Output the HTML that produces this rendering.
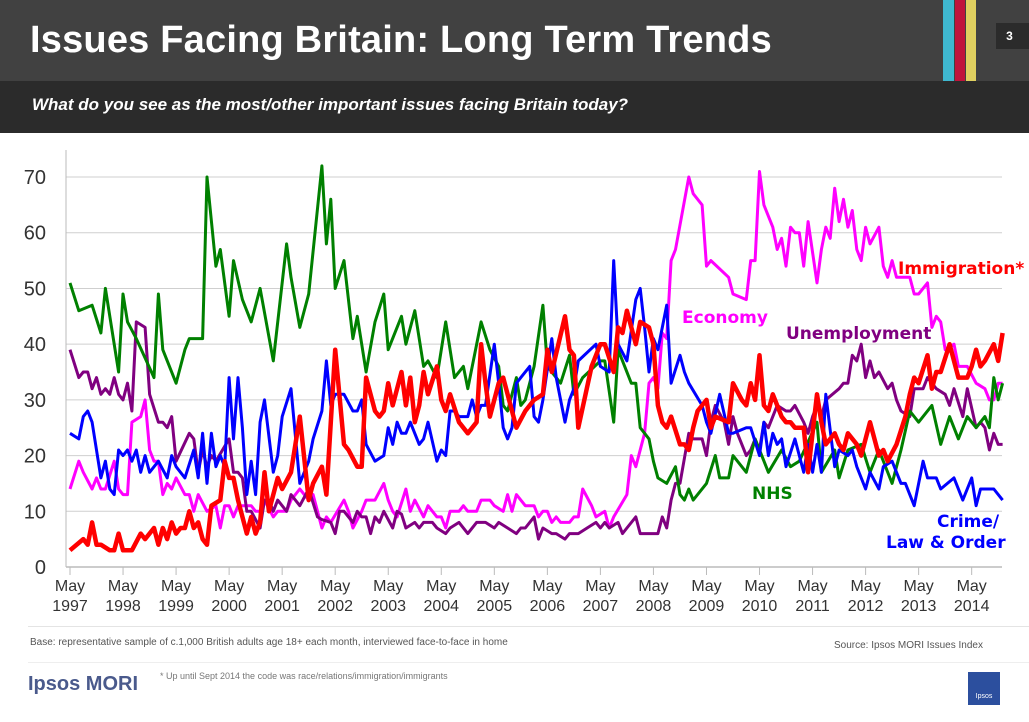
<!DOCTYPE html>
<html><head><meta charset="utf-8"><style>
body{margin:0;width:1029px;height:714px;overflow:hidden;background:#fff;font-family:"Liberation Sans",sans-serif;position:relative}
.abs{position:absolute}
</style></head><body>
<div class="abs" style="left:0;top:0;width:1029px;height:81px;background:#414141"></div>
<div class="abs" style="left:30px;top:19px;color:#fff;font-size:38px;font-weight:bold;letter-spacing:0.2px">Issues Facing Britain: Long Term Trends</div>
<div class="abs" style="left:943px;top:0;width:11px;height:81px;background:#3fb8d0"></div>
<div class="abs" style="left:955px;top:0;width:10px;height:81px;background:#c0143c"></div>
<div class="abs" style="left:966px;top:0;width:10px;height:81px;background:#e0d060"></div>
<div class="abs" style="left:996px;top:23px;width:33px;height:26px;background:#2b2b2b;color:#fff;font-size:12px;font-weight:bold;line-height:26px;text-align:center;padding-right:6px;box-sizing:border-box">3</div>
<div class="abs" style="left:0;top:81px;width:1029px;height:52px;background:#2b2b2b"></div>
<div class="abs" style="left:32px;top:95px;color:#fff;font-size:17px;font-weight:bold;font-style:italic">What do you see as the most/other important issues facing Britain today?</div>

<svg class="abs" style="left:0;top:0" width="1029" height="714" id="chart"></svg>

<div class="abs" style="left:28px;top:626px;width:1001px;height:1px;background:#e4e4e4"></div>
<div class="abs" style="left:30px;top:637px;font-size:10px;color:#555">Base: representative sample of c.1,000 British adults age 18+ each month, interviewed face-to-face in home</div>
<div class="abs" style="left:834px;top:640px;font-size:10px;color:#555">Source: Ipsos MORI  Issues Index</div>
<div class="abs" style="left:28px;top:662px;width:1001px;height:1px;background:#eee"></div>
<div class="abs" style="left:28px;top:673px;font-size:20px;font-weight:bold;color:#4a5a8c">Ipsos MORI</div>
<div class="abs" style="left:160px;top:671px;font-size:9px;color:#777">* Up until Sept 2014 the code was race/relations/immigration/immigrants</div>
<div class="abs" style="left:968px;top:672px;width:32px;height:33px;background:#2c4f9e;color:#fff;font-size:7px;text-align:center;line-height:50px">Ipsos</div>

<script>
const yTicks=[0,10,20,30,40,50,60,70];
const xYears=["1997","1998","1999","2000","2001","2002","2003","2004","2005","2006","2007","2008","2009","2010","2011","2012","2013","2014"];
// month index from May 1997
const nhsM=[0,2,5,7,8,11,12,13,15,19,20,21,24,26,27,30,31,33,34,36,37,39,41,43,46,49,50,52,54,57,58,59,60,62,64,65,67,69,71,72,75,76,78,80,81,83,85,87,89,90,93,95,97,98,99,101,102,103,105,107,108,111,113,114,116,120,121,123,124,127,128,129,131,132,133,135,137,138,139,140,141,144,146,147,149,150,153,155,158,161,163,165,169,170,173,174,176,179,181,183,186,188,190,192,195,197,199,201,203,205,207,208,209,210,211];
const nhsV=[51,46,47,42,50,35,49,44,41,34,49,39,33,39,41,41,70,54,57,45,55,48,44,50,37,58,52,43,49,72,58,66,50,55,41,45,35,44,49,39,45,40,46,36,37,34,44,34,36,32,44,39,36,29,28,34,29,30,36,47,36,33,38,31,34,37,37,26,39,33,33,25,23,19,16,15,18,13,12,14,12,15,20,16,16,20,17,23,17,21,18,19,26,17,21,16,21,22,17,21,15,21,28,26,29,22,27,23,27,25,27,25,34,30,33];
const unM=[0,2,3,4,5,6,7,8,9,10,11,12,13,14,15,17,18,20,21,22,23,24,27,28,29,30,31,32,33,36,37,38,39,40,41,43,44,45,46,47,49,50,52,54,56,57,59,60,61,62,64,65,66,67,68,69,70,71,73,74,75,76,78,79,80,82,83,85,86,88,90,92,94,96,97,99,101,102,103,105,106,107,109,110,112,113,115,117,119,120,121,122,124,125,126,128,129,133,134,135,136,137,138,140,141,143,144,145,146,148,149,150,151,153,154,155,156,157,158,160,162,163,164,166,167,168,169,170,171,174,175,176,177,178,179,180,181,182,183,185,186,187,188,190,191,192,193,194,195,196,198,199,200,202,203,205,206,207,208,209,210,211];
const unV=[39,34,35,35,32,34,31,32,31,34,31,30,33,28,44,43,31,26,26,25,27,19,24,23,17,21,18,20,19,23,17,17,16,10,10,7,12,12,10,12,10,13,11,14,9,8.5,8,6,10,10,8,10,9,9,6,9,8,10,7,10,9.5,7,8,7,8,8,7,6,7,8,6,8,8,7,8,7,6,7,7,9,5,7,6,6,5,6,6,7,8,7,8,7,8,6,7,9,6,6,9,7,12,15,15,24,23,23,20,26,29,26,22,27,24,20,21,23,21,26,25,29,28,28,29,26,24,27,29,27,30,32,33,33,38,37,40,34,37,34,35,32,33,30,28,27,32,32,32,34,33,32,31,29,32,27,32,25,26,25,21,24,22,22];
const crM=[0,2,3,4,5,7,8,9,10,11,12,13,14,15,16,17,18,20,22,23,24,26,28,29,30,31,32,33,34,35,36,37,38,39,40,41,42,43,44,46,47,48,50,52,54,55,57,58,59,60,62,64,65,66,67,69,71,72,73,74,75,76,77,79,80,81,83,84,85,86,87,88,90,91,92,93,94,96,97,98,99,100,101,102,104,105,106,107,109,110,112,113,114,115,119,120,122,123,124,126,128,129,130,131,132,133,135,136,138,139,140,143,144,145,147,149,150,153,154,156,157,158,159,160,161,162,164,166,167,168,169,170,171,173,174,176,177,178,180,181,183,184,186,187,188,189,191,193,194,196,197,200,202,204,205,206,209,211];
const crV=[24,23,27,28,26,16,19,14,13,21,20,21,19,21,17,20,17,19,16,20,18,16,21,16,24,15,24,18,20,18,34,23,34,25,13,19,13,26,30,17,20,27,32,15,19,23,28,37,29,31,31,28,28,30,22,19,20,25,22,26,24,24,26,22,23,26,19,21,20,28,28,27,27,30,27,29,29,40,33,25,23,25,33,34,36,27,26,30,41,34,26,30,32,37,40,36,35,55,40,37,48,50,43,35,41,39,47,33,38,35,33,29,26,24,31,24,24,25,25,20,26,20,24,22,23,18,23,17,22,17,22,17,31,18,21,20,21,18,14,17,14,18,19,17,15,15,11,19,16,16,14,16,12,16,11,14,14,12];
const ecM=[0,2,3,5,6,7,8,10,11,12,13,14,16,17,18,19,20,21,22,23,24,26,27,28,29,31,33,34,35,36,37,38,39,41,42,43,44,46,47,49,50,52,54,55,57,58,59,62,63,64,66,67,69,71,72,73,74,76,77,78,80,81,83,84,85,86,88,89,90,92,93,95,96,98,99,100,101,103,105,106,107,108,109,110,111,113,114,115,116,118,119,121,122,123,126,127,128,130,131,132,133,134,135,136,137,140,141,143,144,145,149,150,153,154,155,156,157,159,160,161,162,163,164,165,166,167,169,170,171,172,173,174,175,176,177,178,179,180,181,183,184,185,186,187,190,191,192,194,195,196,197,198,200,201,203,205,207,208,209,210,211];
const ecV=[14,19,17,14,16,14,14,19,14,13,13,26,27,30,21,19,19,13,15,14,16,13,13,10,13,10,11,7,11,11,9,11,11,11,10,10,12,9,10,10,12,14,12,13,7,9,8,12,10,7,10,12,12,15,12,10,9,14,10,12,9,11,9,9,7,10,10,11,10,10,12,12,11,10,13,10,13,11,11,9,10,10,8,9,8,8,9,9,14,11,9,10,7,9,13,20,18,24,33,34,32,42,41,55,57,70,67,65,54,55,52,49,48,55,55,71,65,61,57,59,54,61,60,60,54,62,51,57,61,59,68,62,66,61,64,57,55,61,58,61,54,52,55,52,52,49,49,51,43,45,44,39,40,36,36,33,32,30,30,33,33];
const imM=[0,3,4,5,6,7,9,10,11,12,14,16,17,19,20,21,22,23,24,25,26,27,28,29,30,31,32,34,35,36,37,38,40,41,42,43,44,45,47,48,50,52,54,55,57,58,60,62,63,65,66,67,69,70,71,72,73,75,76,77,78,79,80,81,83,84,85,86,88,90,92,93,94,95,97,98,101,103,105,107,108,109,112,113,114,115,118,120,121,123,124,125,126,128,129,131,132,133,134,135,136,138,139,140,141,142,144,145,146,149,150,152,153,154,155,156,157,158,159,161,162,163,164,166,167,169,170,171,173,174,175,176,178,179,181,183,184,185,187,189,190,191,192,194,195,196,197,199,200,201,203,204,205,206,207,209,210,211];
const imV=[3,5,4,8,4,4,3,3,6,3,3,6,5,7,4,7,5,8,6,7,7,10,7,8,5,4,11,12,19,16,16,12,6,9,6,8,17,10,16,14,17,27,12,15,18,13,39,22,21,18,18,34,28,27,28,33,29,35,29,34,26,29,35,31,36,30,28,31,26,24,26,40,33,27,33,34,25,28,30,31,39,35,45,39,38,25,36,40,40,35,43,42,46,40,44,43,40,29,26,25,27,22,22,21,25,28,30,25,27,26,33,30,29,33,30,38,29,28,31,27,26,26,25,25,17,31,26,22,24,22,21,24,22,20,26,20,21,19,22,27,31,34,33,38,32,35,35,40,37,34,34,36,39,36,37,40,37,42];

const svg=document.getElementById('chart');
const NS='http://www.w3.org/2000/svg';
const X0=70,MW=4.42,Y0=567,YS=5.571;
const xs=m=>X0+m*MW;
const ys=v=>Y0-v*YS;
function mk(tag,attrs){const e=document.createElementNS(NS,tag);for(const k in attrs)e.setAttribute(k,attrs[k]);svg.appendChild(e);return e;}
yTicks.forEach(t=>{
  if(t>0){const g=mk('line',{x1:66,x2:1002,y1:ys(t),y2:ys(t),stroke:'#cfcfcf','stroke-width':1});
  
  }
  const l=mk('text',{x:46,y:ys(t)+7,'text-anchor':'end','font-size':20,fill:'#333','font-family':'Liberation Sans, sans-serif'});
  l.textContent=t;
  
  
});
const ax=mk('line',{x1:66,x2:66,y1:150,y2:Y0,stroke:'#bbb','stroke-width':1});


const bx=mk('line',{x1:66,x2:1002,y1:Y0,y2:Y0,stroke:'#bbb','stroke-width':1.5});


xYears.forEach((yr,i)=>{
  const x=xs(i*12);
  const tk=mk('line',{x1:x,x2:x,y1:Y0,y2:Y0+8,stroke:'#bbb','stroke-width':1});
  
  
  const t=mk('text',{x:x,y:591,'text-anchor':'middle','font-size':16,fill:'#333','font-family':'Liberation Sans, sans-serif'});
  t.textContent='May';
  
  
  const t2=mk('text',{x:x,y:611,'text-anchor':'middle','font-size':16,fill:'#333','font-family':'Liberation Sans, sans-serif'});
  t2.textContent=yr;
  
  
});
function series(M,V,color,w,name){
  const d=M.map((m,i)=>(i?'L':'M')+xs(m).toFixed(1)+' '+ys(V[i]).toFixed(1)).join(' ');
  const p=mk('path',{d:d,fill:'none',stroke:color,'stroke-width':w,'stroke-linejoin':'round'});
  
  
}
series(ecM,ecV,'#ff00ff',3,'economy-line');
series(unM,unV,'#800080',3,'unemployment-line');
series(nhsM,nhsV,'#008000',3,'nhs-line');
series(crM,crV,'#0000ff',3,'crime-line');
series(imM,imV,'#ff0000',4.5,'immigration-line');
function lab(txt,x,y,color,name){
  const t=mk('text',{x:x,y:y,'font-size':17,'font-weight':'bold',fill:color,'font-family':'DejaVu Sans, Liberation Sans, sans-serif'});
  t.textContent=txt;
  
  
  return t;
}
lab('Economy',682,323,'#ff00ff','economy-label');
lab('Unemployment',786,339,'#800080','unemployment-label');
lab('Immigration*',898,274,'#ff0000','immigration-label');
lab('NHS',752,499,'#008000','nhs-label');
lab('Crime/',937,527,'#0000ff','crime-label');
lab('Law & Order',886,548,'#0000ff','law-order-label');
</script>
</body></html>
